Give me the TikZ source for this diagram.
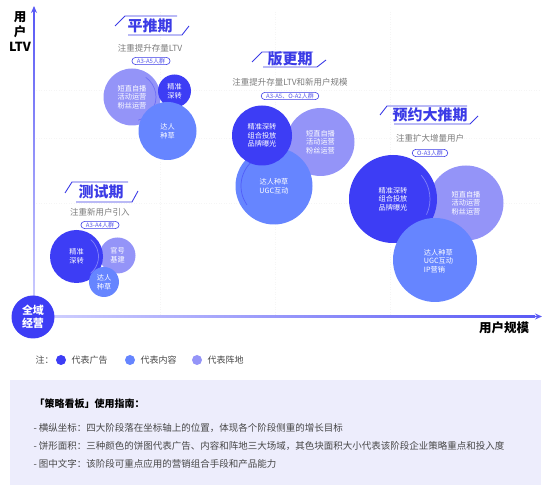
\documentclass[tikz,border=0pt]{standalone}
\usepackage{fontspec}
\setmainfont{Noto Sans CJK SC}
\usetikzlibrary{arrows.meta,positioning}
\definecolor{adblue}{HTML}{3D3DF5}
\definecolor{conblue}{HTML}{6685FF}
\definecolor{posblue}{HTML}{9494F8}
\definecolor{titblue}{HTML}{3B3BE6}
\definecolor{axisdark}{HTML}{5A5AF5}
\definecolor{axislight}{HTML}{D2D2FF}
\definecolor{boxbg}{HTML}{EDEDFC}
\definecolor{notegray}{HTML}{7A7A7A}

\begin{document}
\begin{tikzpicture}[x=1pt,y=-1pt,>=Stealth,
  bubble/.style={circle,inner sep=0pt,text=white,align=center,font=\fontsize{7.2}{8.7}\selectfont},
  adbub/.style={bubble,fill=adblue},
  conbub/.style={bubble,fill=conblue},
  fieldbub/.style={bubble,fill=posblue},
  stagetitle/.style={text=titblue,font=\bfseries\fontsize{15}{16}\selectfont},
  frameline/.style={titblue,line width=0.9pt},
  stagenote/.style={text=notegray,font=\fontsize{8.5}{10}\selectfont},
  crowd/.style={draw=titblue,fill=white,rounded corners=3.5pt,text=titblue!85,line width=0.6pt,
    inner xsep=5pt,inner ysep=0.8pt,font=\fontsize{6}{6.5}\selectfont},
  gridline/.style={black!4,dotted,line width=0.5pt},
  guide/.style={anchor=west,text=black!72,font=\fontsize{9}{11}\selectfont},
  rule/.style={anchor=west,text=black!72,font=\fontsize{9.5}{11}\selectfont}]
  \useasboundingbox (0,0) rectangle (550,486);

  % faint grid
  \foreach \gx in {160,275,390}
    \draw[gridline] (\gx,12) -- (\gx,315);
  \foreach \gy in {90,138,203}
    \draw[gridline] (36,\gy) -- (540,\gy);

  % axes
  \shade[top color=axisdark,bottom color=axislight] (33.2,14) rectangle (34.8,317);
  \shade[left color=axislight,right color=axisdark] (34,315.7) rectangle (535,317.3);
  \draw[axisdark,line width=1.6pt,-{Stealth[length=7pt,width=6pt]}] (34,16) -- (34,6);
  \draw[axisdark,line width=1.6pt,-{Stealth[length=7pt,width=6pt]}] (532,316.5) -- (542,316.5);
  \node[align=center,font=\bfseries\fontsize{12.5}{15}\selectfont] (ylab) at (20,32) {用\\户\\LTV};
  \node[font=\bfseries\fontsize{12.5}{14}\selectfont] (xlab) at (504,328) {用户规模};
  \node[circle,fill=adblue,minimum size=43pt,inner sep=0pt,text=white,align=center,
    font=\bfseries\fontsize{11}{13.5}\selectfont] (origin) at (33,317) {全域\\经营};

  % 平推期
  \node[stagetitle] (pt) at (150,26) {平推期};
  \draw[frameline] (115,26) -- (125,16) -- (177,16);
  \draw[frameline] (128,35) -- (182,35) -- (189,26);
  \node[stagenote] (ptnote) at (150,48) {注重提升存量LTV};
  \node[crowd] (ptcrowd) at (151,61) {A3-A5人群};
  \node[fieldbub,minimum size=57pt] (ptfield) at (132,97) {短直自播\\活动运营\\粉丝运营};
  \draw[adblue!45!posblue,line width=0.7pt] (ptfield.center) ++(-55:24) arc (-55:75:24);
  \node[adbub,minimum size=33pt] (ptad) at (174.5,91) {精准\\深转};
  \node[conbub,minimum size=58pt] (ptcon) at (167.5,131) {达人\\种草};

  % 版更期
  \node[stagetitle] (bg) at (290,59) {版更期};
  \draw[frameline] (252,62) -- (262,52) -- (313,52);
  \draw[frameline] (263,67) -- (317,67) -- (326,60);
  \node[stagenote] (bgnote) at (290,82) {注重提升存量LTV和新用户规模};
  \node[crowd] (bgcrowd) at (290,96) {A3-A5、O-A2人群};
  \node[fieldbub,minimum size=68pt] (bgfield) at (320.5,142) {短直自播\\活动运营\\粉丝运营};
  \node[conbub,minimum size=77pt] (bgcon) at (274,186) {达人种草\\UGC互动};
  \draw[adblue!55!conblue,line width=0.7pt] (bgcon.center) ++(145:33) arc (145:235:33);
  \node[adbub,minimum size=60pt] (bgad) at (262,135.5) {精准深转\\组合投放\\品牌曝光};

  % 预约大推期
  \node[stagetitle] (yy) at (430,115) {预约大推期};
  \draw[frameline] (380,115) -- (387,106) -- (467,106);
  \draw[frameline] (394,124) -- (470,124) -- (478,116);
  \node[stagenote] (yynote) at (430,138) {注重扩大增量用户};
  \node[crowd] (yycrowd) at (430,153) {O-A3人群};
  \node[fieldbub,minimum size=75pt] (yyfield) at (466,203) {短直自播\\活动运营\\粉丝运营};
  \node[adbub,minimum size=88pt] (yyad) at (393,199) {精准深转\\组合投放\\品牌曝光};
  \draw[white,opacity=0.35,line width=0.7pt] (yyad.center) ++(-40:37) arc (-40:25:37);
  \node[conbub,minimum size=84pt] (yycon) at (435,260) {};
  \node[bubble,align=left,anchor=west] (yycontext) at (419.5,261) {达人种草\\UGC互动\\IP营销};

  % 测试期
  \node[stagetitle] (cs) at (101,192) {测试期};
  \draw[frameline] (65,193) -- (72,182) -- (128,182);
  \draw[frameline] (76,202) -- (132,202) -- (138,191);
  \node[stagenote] (csnote) at (100,212) {注重新用户引入};
  \node[crowd] (cscrowd) at (100,225) {A3-A4人群};
  \node[fieldbub,minimum size=36pt] (csfield) at (117.5,255.5) {官号\\基建};
  \node[adbub,minimum size=53pt] (csad) at (76.5,256.5) {精准\\深转};
  \draw[white,opacity=0.35,line width=0.7pt] (csad.center) ++(-50:22) arc (-50:50:22);
  \node[conbub,minimum size=30pt] (cscon) at (104,282) {达人\\种草};

  % legend
  \node[anchor=west,text=black!70,font=\fontsize{9}{11}\selectfont] (legnote) at (32,360) {注：};
  \fill[adblue] (61,360) circle (5);
  \node[guide] (legad) at (68,360) {代表广告};
  \fill[conblue] (130,360) circle (5);
  \node[guide] (legcon) at (137,360) {代表内容};
  \fill[posblue] (197,360) circle (5);
  \node[guide] (legfield) at (204,360) {代表阵地};

  % guide box
  \fill[boxbg] (10,380) rectangle (541,485);
  \node[anchor=west,font=\bfseries\fontsize{10}{12}\selectfont] (boxtitle) at (31,404) {「策略看板」使用指南：};
  \node[rule] (rule1) at (30,428) {- 横纵坐标：四大阶段落在坐标轴上的位置，体现各个阶段侧重的增长目标};
  \node[rule] (rule2) at (30,446) {- 饼形面积：三种颜色的饼图代表广告、内容和阵地三大场域，其色块面积大小代表该阶段企业策略重点和投入度};
  \node[rule] (rule3) at (30,464) {- 图中文字：该阶段可重点应用的营销组合手段和产品能力};
\end{tikzpicture}
\end{document}
